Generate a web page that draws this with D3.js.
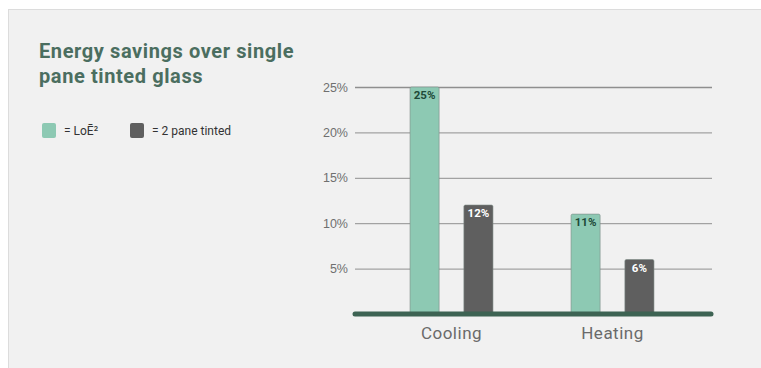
<!DOCTYPE html>
<html>
<head>
<meta charset="utf-8">
<script src="https://cdn.jsdelivr.net/npm/d3@7"></script>
<style>
  body { margin: 0; background: #fff; }
  svg { display: block; }
</style>
</head>
<body>
<div id="chart"></div>
<script>
// data
const categories = ["Cooling", "Heating"];
const series = ["LoĒ²", "2 pane tinted"];
const loeValues = [25, 11];
const tintedValues = [12, 6];
const yTicks = [5, 10, 15, 20, 25];

const W = 761, H = 368;
const colors = { "LoĒ²": "#8dc9b3", "2 pane tinted": "#5f5f5f" };
const labelColors = { "LoĒ²": "#1e4a38", "2 pane tinted": "#ffffff" };

const rows = categories.map(function(c, i) {
  return { cat: c, values: [
    { key: series[0], value: loeValues[i] },
    { key: series[1], value: tintedValues[i] }
  ]};
});

const svg = d3.select("#chart").append("svg")
  .attr("width", W).attr("height", H)
  .style("font-family", "Roboto, 'DejaVu Sans', sans-serif");

// panel
svg.append("rect")
  .attr("x", 8.5).attr("y", 9.5)
  .attr("width", W).attr("height", H)
  .attr("fill", "#f1f1f1")
  .attr("stroke", "#dcdcdc");

// title
const title = svg.append("text")
  .attr("x", 39).attr("y", 58)
  .attr("fill", "#4b6e60")
  .style("font-size", "20px")
  .style("letter-spacing", "0.6px")
  .style("font-weight", "bold");
title.append("tspan").attr("x", 39).text("Energy savings over single");
title.append("tspan").attr("x", 39).attr("dy", 25).text("pane tinted glass");

// legend
const legendX = [42, 130];
const legend = svg.selectAll(".legend").data(series).enter().append("g")
  .attr("class", "legend")
  .attr("transform", function(d, i) { return "translate(" + legendX[i] + ",123)"; });
legend.append("rect")
  .attr("width", 14).attr("height", 15).attr("rx", 2)
  .attr("fill", function(d) { return colors[d]; });
legend.append("text")
  .attr("x", 22).attr("y", 12)
  .attr("fill", "#333")
  .style("font-size", "12px")
  .text(function(d) { return "= " + d; });

// scales
const y = d3.scaleLinear().domain([0, 25]).range([314, 87]);
const x0 = d3.scaleBand().domain(categories).range([371, 693])
  .paddingInner(0.331).paddingOuter(0.1655);
const x1 = d3.scaleBand().domain(series).range([0, x0.bandwidth()])
  .paddingInner(0.46).paddingOuter(0.23);

// grid + y axis labels
const yAxis = svg.append("g")
  .attr("transform", "translate(355,0)")
  .call(d3.axisLeft(y).tickValues(yTicks).tickSize(-357)
    .tickFormat(function(d) { return d + "%"; }));
yAxis.select(".domain").remove();
yAxis.selectAll(".tick line")
  .attr("stroke", "#8f8f8f")
  .attr("stroke-width", function(d) { return d === 25 ? 1.6 : 1; });
yAxis.selectAll(".tick text")
  .attr("x", -7)
  .attr("fill", "#6f6f6f")
  .style("font-size", "12.5px");

// bars
const groups = svg.selectAll(".grp").data(rows).enter().append("g")
  .attr("class", "grp")
  .attr("transform", function(d) { return "translate(" + x0(d.cat) + ",0)"; });

groups.selectAll("rect").data(function(d) { return d.values; }).enter().append("rect")
  .attr("x", function(d) { return x1(d.key); })
  .attr("y", function(d) { return y(d.value); })
  .attr("width", x1.bandwidth())
  .attr("height", function(d) { return y(0) - y(d.value); })
  .attr("rx", 1.5)
  .attr("fill", function(d) { return colors[d.key]; })
  .attr("stroke", "#7d8a85")
  .attr("stroke-opacity", 0.6)
  .attr("stroke-width", 1);

groups.selectAll(".val").data(function(d) { return d.values; }).enter().append("text")
  .attr("class", "val")
  .attr("x", function(d) { return x1(d.key) + x1.bandwidth() / 2; })
  .attr("y", function(d) { return y(d.value) + 12; })
  .attr("text-anchor", "middle")
  .attr("fill", function(d) { return labelColors[d.key]; })
  .style("font-size", "11.5px")
  .style("font-weight", "bold")
  .text(function(d) { return d.value + "%"; });

// baseline
svg.append("line")
  .attr("x1", 355).attr("x2", 711)
  .attr("y1", y(0)).attr("y2", y(0))
  .attr("stroke", "#3d6353")
  .attr("stroke-width", 5)
  .attr("stroke-linecap", "round");

// category labels
svg.selectAll(".cat").data(categories).enter().append("text")
  .attr("class", "cat")
  .attr("x", function(d) { return x0(d) + x0.bandwidth() / 2; })
  .attr("y", 339)
  .attr("text-anchor", "middle")
  .attr("fill", "#6a6a6a")
  .style("font-size", "17px")
  .style("letter-spacing", "0.5px")
  .text(function(d) { return d; });
</script>
</body>
</html>
